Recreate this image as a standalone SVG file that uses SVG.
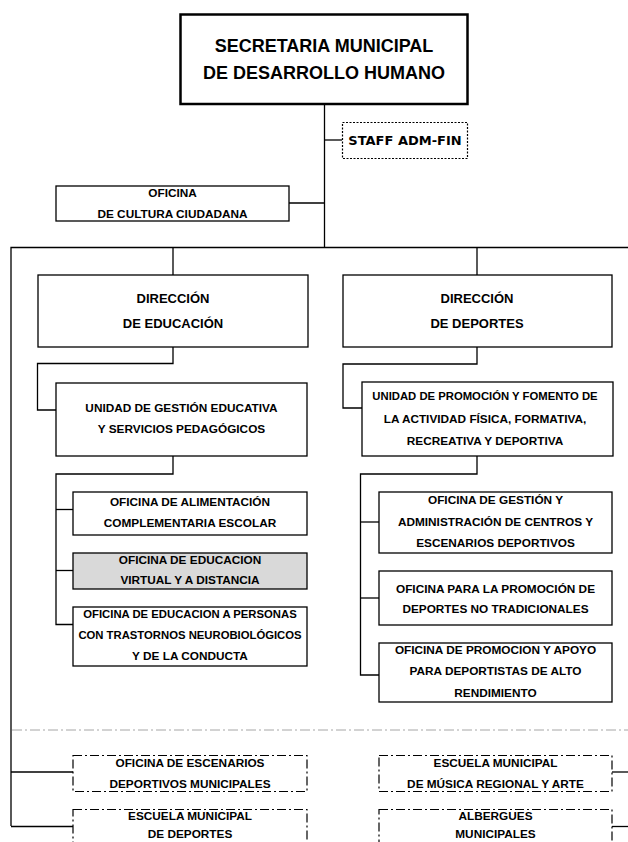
<svg xmlns="http://www.w3.org/2000/svg" width="628" height="842" viewBox="0 0 628 842">
  <style>
    .box { fill: #ffffff; stroke: #000000; stroke-width: 1.3; }
    .gray { fill: #d9d9d9; }
    .main { stroke-width: 2.5; }
    .staff { stroke-width: 1.2; stroke-dasharray: 2 1.5; }
    .future { fill: none; stroke: #000000; stroke-width: 1.2; stroke-dasharray: 9 3 2 3; }
    .link { fill: none; stroke: #000000; stroke-width: 1.3; }
    .sep { fill: none; stroke: #a6a6a6; stroke-width: 1; stroke-dasharray: 10 3 2 3; }
    text { font-family: "Liberation Sans", Arial, sans-serif; font-weight: bold; text-anchor: middle; fill: #000000; }
    .t11 { font-size: 11.8px; }
    .narrow { font-size: 11.3px; }
    .t13 { font-size: 13px; }
    .t18 { font-size: 18px; }
    .tstaff { font-family: "DejaVu Sans", Verdana, sans-serif; font-size: 13px; }
  </style>

  <!-- connectors -->
  <g id="connectors">
    <!-- trunk -->
    <path class="link" d="M324.5 104 V247.5"/>
    <path class="link" d="M324.5 140 H342"/>
    <path class="link" d="M289 203 H324.5"/>
    <path class="link" d="M11 826 V247.5 H628"/>
    <!-- direcciones -->
    <path class="link" d="M173 247.5 V275"/>
    <path class="link" d="M477 247.5 V275"/>
    <!-- educacion branch -->
    <path class="link" d="M173 347 V363.5 H37.5 V410 H56"/>
    <path class="link" d="M173 456 V474 H56 V624.5 H73"/>
    <path class="link" d="M56 509.5 H73"/>
    <path class="link" d="M56 570.5 H73"/>
    <!-- deportes branch -->
    <path class="link" d="M477 347 V364 H343 V408 H362"/>
    <path class="link" d="M477 456 V474 H360.5 V675 H379"/>
    <path class="link" d="M360.5 522 H379"/>
    <path class="link" d="M360.5 598 H379"/>
    <!-- lower section -->
    <path class="sep" d="M12 730 H628"/>
    <path class="link" d="M11 772 H73"/>
    <path class="link" d="M11 826.5 H73"/>
    <path class="link" d="M612 772 H628"/>
    <path class="link" d="M612 826.5 H628"/>
  </g>

  <g id="secretaria">
    <rect class="box main" x="180.5" y="14.5" width="287" height="89.5"/>
    <text class="t18" x="324" y="52">SECRETARIA MUNICIPAL</text>
    <text class="t18" x="324" y="79">DE DESARROLLO HUMANO</text>
  </g>

  <g id="staff">
    <rect class="box staff" x="342.5" y="122.5" width="125" height="36"/>
    <text class="tstaff" x="405" y="145">STAFF ADM-FIN</text>
  </g>

  <g id="cultura">
    <rect class="box" x="56" y="186" width="233" height="35"/>
    <text class="t11" x="172.5" y="197">OFICINA</text>
    <text class="t11" x="172.5" y="218">DE CULTURA CIUDADANA</text>
  </g>

  <g id="dir-educacion">
    <rect class="box" x="38" y="275" width="270" height="72"/>
    <text class="t13" x="173" y="303">DIRECCIÓN</text>
    <text class="t13" x="173" y="328">DE EDUCACIÓN</text>
  </g>

  <g id="dir-deportes">
    <rect class="box" x="343" y="275" width="269" height="72"/>
    <text class="t13" x="477" y="303">DIRECCIÓN</text>
    <text class="t13" x="477" y="328">DE DEPORTES</text>
  </g>

  <g id="unidad-educativa">
    <rect class="box" x="56" y="383" width="251" height="73"/>
    <text class="t11" x="181.5" y="412">UNIDAD DE GESTIÓN EDUCATIVA</text>
    <text class="t11" x="181.5" y="433">Y SERVICIOS PEDAGÓGICOS</text>
  </g>

  <g id="unidad-deportiva">
    <rect class="box" x="362" y="382" width="251" height="74"/>
    <text class="narrow" x="485" y="400">UNIDAD DE PROMOCIÓN Y FOMENTO DE</text>
    <text class="t11" x="485" y="423">LA ACTIVIDAD FÍSICA, FORMATIVA,</text>
    <text class="t11" x="485" y="445">RECREATIVA Y DEPORTIVA</text>
  </g>

  <g id="of-alimentacion">
    <rect class="box" x="73" y="492" width="234" height="43"/>
    <text class="t11" x="190" y="506">OFICINA DE ALIMENTACIÓN</text>
    <text class="t11" x="190" y="527">COMPLEMENTARIA ESCOLAR</text>
  </g>

  <g id="of-virtual">
    <rect class="box gray" x="73" y="553" width="234" height="36"/>
    <text class="t11" x="190" y="564">OFICINA DE EDUCACION</text>
    <text class="t11" x="190" y="584">VIRTUAL Y A DISTANCIA</text>
  </g>

  <g id="of-trastornos">
    <rect class="box" x="73" y="607" width="234" height="59"/>
    <text class="narrow" x="190" y="618">OFICINA DE EDUCACION A PERSONAS</text>
    <text class="narrow" x="190" y="639">CON TRASTORNOS NEUROBIOLÓGICOS</text>
    <text class="t11" x="190" y="660">Y DE LA CONDUCTA</text>
  </g>

  <g id="of-centros">
    <rect class="box" x="379" y="492" width="233" height="61"/>
    <text class="t11" x="495.5" y="504">OFICINA DE GESTIÓN Y</text>
    <text class="t11" x="495.5" y="526">ADMINISTRACIÓN DE CENTROS Y</text>
    <text class="t11" x="495.5" y="547">ESCENARIOS DEPORTIVOS</text>
  </g>

  <g id="of-no-tradicionales">
    <rect class="box" x="379" y="571" width="233" height="54"/>
    <text class="t11" x="495.5" y="593">OFICINA PARA LA PROMOCIÓN DE</text>
    <text class="t11" x="495.5" y="613">DEPORTES NO TRADICIONALES</text>
  </g>

  <g id="of-alto-rendimiento">
    <rect class="box" x="379" y="643" width="233" height="59"/>
    <text class="t11" x="495.5" y="654">OFICINA DE PROMOCION Y APOYO</text>
    <text class="t11" x="495.5" y="675">PARA DEPORTISTAS DE ALTO</text>
    <text class="t11" x="495.5" y="697">RENDIMIENTO</text>
  </g>

  <g id="of-escenarios">
    <rect class="future" x="73" y="755.5" width="234" height="36"/>
    <text class="t11" x="190" y="767">OFICINA DE ESCENARIOS</text>
    <text class="t11" x="190" y="788">DEPORTIVOS MUNICIPALES</text>
  </g>

  <g id="esc-musica">
    <rect class="future" x="379" y="755.5" width="233" height="36"/>
    <text class="t11" x="495.5" y="767">ESCUELA MUNICIPAL</text>
    <text class="t11" x="495.5" y="788">DE MÚSICA REGIONAL Y ARTE</text>
  </g>

  <g id="esc-deportes">
    <rect class="future" x="73" y="809.5" width="234" height="50"/>
    <text class="t11" x="190" y="820">ESCUELA  MUNICIPAL</text>
    <text class="t11" x="190" y="838">DE DEPORTES</text>
  </g>

  <g id="albergues">
    <rect class="future" x="379" y="809.5" width="233" height="50"/>
    <text class="t11" x="495.5" y="820">ALBERGUES</text>
    <text class="t11" x="495.5" y="838">MUNICIPALES</text>
  </g>
</svg>
